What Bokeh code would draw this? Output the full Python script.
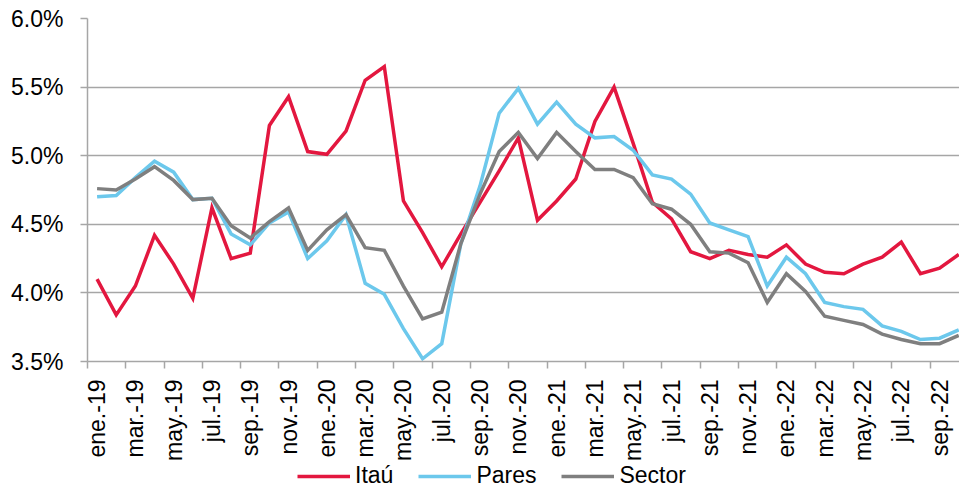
import math
from bokeh.plotting import figure
from bokeh.layouts import column
from bokeh.models import (FixedTicker, PrintfTickFormatter, Range1d, Legend,
                          LegendItem, ColumnDataSource)
from bokeh.embed import file_html
from bokeh.resources import INLINE

months = []
for yy in ["19", "20", "21", "22"]:
    for m in ["ene.", "feb.", "mar.", "abr.", "may.", "jun.",
              "jul.", "ago.", "sep.", "oct.", "nov.", "dic."]:
        months.append(f"{m}-{yy}")
months = months[:46]  # ene.-19 .. oct.-22

itau = [4.10, 3.84, 4.05, 4.42, 4.21, 3.96, 4.62, 4.25, 4.29, 5.22,
        5.43, 5.03, 5.01, 5.18, 5.55, 5.65, 4.67, 4.44, 4.19, 4.43,
        4.66, 4.89, 5.13, 4.53, 4.67, 4.83, 5.25, 5.50, 5.09, 4.66,
        4.54, 4.30, 4.25, 4.31, 4.28, 4.26, 4.35, 4.21, 4.15, 4.14,
        4.21, 4.26, 4.37, 4.14, 4.18, 4.28]

pares = [4.70, 4.71, 4.84, 4.96, 4.88, 4.68, 4.69, 4.43, 4.35, 4.51,
         4.59, 4.25, 4.38, 4.57, 4.07, 3.99, 3.74, 3.52, 3.63, 4.36,
         4.78, 5.31, 5.49, 5.23, 5.39, 5.23, 5.13, 5.14, 5.04, 4.86,
         4.83, 4.72, 4.51, 4.46, 4.41, 4.05, 4.26, 4.14, 3.93, 3.90,
         3.88, 3.76, 3.72, 3.66, 3.67, 3.73]

sector = [4.76, 4.75, 4.83, 4.92, 4.82, 4.68, 4.69, 4.49, 4.40, 4.52,
          4.62, 4.31, 4.46, 4.57, 4.33, 4.31, 4.05, 3.81, 3.86, 4.36,
          4.72, 5.03, 5.17, 4.98, 5.17, 5.03, 4.90, 4.90, 4.84, 4.65,
          4.61, 4.50, 4.30, 4.29, 4.22, 3.93, 4.14, 4.01, 3.83, 3.80,
          3.77, 3.70, 3.66, 3.63, 3.63, 3.69]

y_ticks = [3.5, 4.0, 4.5, 5.0, 5.5, 6.0]

series_names = ["Itaú", "Pares", "Sector"]
columns = ["itau", "pares", "sector"]
colors = ["#E3173F", "#6CC8EC", "#7F7F7F"]

x = list(range(len(months)))
src = ColumnDataSource(dict(x=x, itau=itau, pares=pares, sector=sector))

FONT = "Liberation Sans"
FS = "23px"
LW = 3.5

p = figure(width=959, height=463, output_backend="svg", toolbar_location=None,
           x_range=Range1d(-0.5, len(months) - 1 + 0.04),
           y_range=Range1d(y_ticks[0], y_ticks[-1]),
           min_border_left=87, min_border_right=0, min_border_top=18,
           min_border_bottom=100)
p.outline_line_color = None
p.background_fill_color = "white"
p.border_fill_color = "white"

for col, c in zip(columns, colors):
    p.line("x", col, source=src, line_color=c, line_width=LW,
           line_join="miter")

# x axis
xa = p.xaxis[0]
xa.ticker = FixedTicker(ticks=x[::2], minor_ticks=[i - 0.5 for i in x[::2]])
xa.major_label_overrides = {i: months[i] for i in x[::2]}
xa.major_label_orientation = math.pi / 2
xa.major_tick_line_color = None
xa.minor_tick_line_color = "#A6A6A6"
xa.minor_tick_in = 0
xa.minor_tick_out = 7
xa.minor_tick_line_width = 1.5
xa.axis_line_color = "#A6A6A6"
xa.axis_line_width = 1.5
xa.major_label_text_font = FONT
xa.major_label_text_font_size = FS
xa.major_label_text_color = "#000000"
xa.major_label_standoff = 11

# y axis
ya = p.yaxis[0]
ya.ticker = FixedTicker(ticks=y_ticks)
ya.formatter = PrintfTickFormatter(format="%.1f%%")
ya.major_tick_in = 0
ya.major_tick_out = 7
ya.major_tick_line_color = "#A6A6A6"
ya.major_tick_line_width = 1.5
ya.minor_tick_line_color = None
ya.axis_line_color = "#A6A6A6"
ya.axis_line_width = 1.5
ya.major_label_text_font = FONT
ya.major_label_text_font_size = FS
ya.major_label_text_color = "#000000"
ya.major_label_standoff = 17

p.xgrid.grid_line_color = None
p.ygrid.ticker = FixedTicker(ticks=y_ticks)
p.ygrid.grid_line_color = "#A6A6A6"
p.ygrid.grid_line_width = 1.5

# legend strip below the chart (its lines share the data but lie out of view)
pl = figure(width=959, height=30, output_backend="svg", toolbar_location=None,
            x_range=Range1d(1000, 1001), y_range=Range1d(0, 1),
            min_border=0)
pl.outline_line_color = None
pl.axis.visible = False
pl.grid.visible = False
leg_renderers = []
for col, c in zip(columns, colors):
    leg_renderers.append(pl.line("x", col, source=src, line_color=c,
                                 line_width=LW))

legend = Legend(items=[LegendItem(label=n, renderers=[r])
                       for n, r in zip(series_names, leg_renderers)],
                orientation="horizontal", location=(210, 4),
                padding=0, margin=0, spacing=25, label_standoff=5,
                glyph_width=53, glyph_height=26,
                label_text_font=FONT, label_text_font_size=FS,
                label_text_color="#000000",
                border_line_color=None, background_fill_alpha=0)
pl.add_layout(legend, "center")

layout = column(p, pl, spacing=0)
open("out.html", "w").write(file_html(layout, INLINE))
